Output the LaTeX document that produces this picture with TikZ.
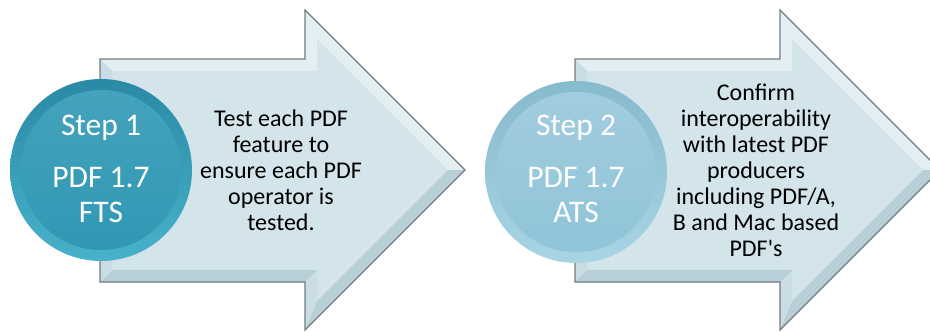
\documentclass[tikz,border=0pt]{standalone}
\usepackage{fontspec}
\setmainfont{Carlito}
\definecolor{facecol}{HTML}{D3E4EA}
\definecolor{edgecol}{HTML}{6F7C81}
\definecolor{bevlight}{HTML}{E4EFF3}
\definecolor{bevmid}{HTML}{CBDDE4}
\definecolor{bevdark}{HTML}{B9CFD8}
\definecolor{tealring}{HTML}{2A8AA5}
\definecolor{tealringlow}{HTML}{48B2CA}
\definecolor{tealdisc}{HTML}{3098B4}
\definecolor{paleringtop}{HTML}{86BACD}
\definecolor{paleringlow}{HTML}{A8D5E4}
\definecolor{paledisc}{HTML}{90C4D8}
\tikzset{
  ringone/.style={circle, inner sep=0pt, minimum size=182pt, top color=tealring, bottom color=tealringlow},
  discone/.style={circle, inner sep=0pt, minimum size=160pt, top color=tealdisc!90!white, bottom color=tealdisc},
  ringtwo/.style={circle, inner sep=0pt, minimum size=182pt, top color=paleringtop, bottom color=paleringlow},
  disctwo/.style={circle, inner sep=0pt, minimum size=160pt, top color=paledisc!85!white, bottom color=paledisc},
  steplabel/.style={text=white, font=\fontsize{31.5}{35}\selectfont, align=center},
  desc/.style={text=black, font=\fontsize{24}{26}\selectfont, align=center},
}
% One beveled block arrow; body from x=100, head base at x=305, tip at x=465
\newcommand\bevelarrow{%
  \coordinate (A) at (100,59);  \coordinate (B) at (305,59);
  \coordinate (C) at (305,10);  \coordinate (D) at (465,170);
  \coordinate (E) at (305,330); \coordinate (F) at (305,282);
  \coordinate (G) at (100,282);
  \coordinate (a) at (112,71);  \coordinate (b) at (317,71);
  \coordinate (c) at (317,39);  \coordinate (d) at (448,170);
  \coordinate (e) at (317,301); \coordinate (f) at (317,270);
  \coordinate (g) at (112,270);
  \fill[facecol] (A) -- (B) -- (C) -- (D) -- (E) -- (F) -- (G) -- cycle;
  \fill[bevlight] (A) -- (B) -- (b) -- (a) -- cycle;
  \fill[bevlight] (B) -- (C) -- (c) -- (b) -- cycle;
  \fill[bevlight] (C) -- (D) -- (d) -- (c) -- cycle;
  \fill[bevdark] (D) -- (E) -- (e) -- (d) -- cycle;
  \fill[bevmid] (E) -- (F) -- (f) -- (e) -- cycle;
  \fill[bevdark] (F) -- (G) -- (g) -- (f) -- cycle;
  \fill[bevmid] (G) -- (A) -- (a) -- (g) -- cycle;
  \draw[edgecol, line width=1.1pt, line join=miter]
    (A) -- (B) -- (C) -- (D) -- (E) -- (F) -- (G) -- cycle;
}
\begin{document}
\begin{tikzpicture}[x=1pt, y=-1pt]
\useasboundingbox (0,0) rectangle (930,332);
\clip (0,0) rectangle (930,332);

% first stage
\bevelarrow
\node[ringone] (r1) at (101,170) {};
\node[discone] (c1) at (r1.center) {};
\node[steplabel] (s1) at (101,128) {Step 1};
\node[steplabel] (v1) at (101,195) {PDF 1.7\\FTS};
\node[desc] (t1) at (281,170) {Test each PDF\\feature to\\ensure each PDF\\operator is\\tested.};

% second stage
\begin{scope}[xshift=475pt]
\bevelarrow
\end{scope}
\node[ringtwo] (r2) at (576,172) {};
\node[disctwo] (c2) at (r2.center) {};
\node[steplabel] (s2) at (576,128) {Step 2};
\node[steplabel] (v2) at (576,195) {PDF 1.7\\ATS};
\node[desc] (t2) at (756,170) {Confirm\\interoperability\\with latest PDF\\producers\\including PDF/A,\\B and Mac based\\PDF\textquotesingle s};
\end{tikzpicture}
\end{document}
